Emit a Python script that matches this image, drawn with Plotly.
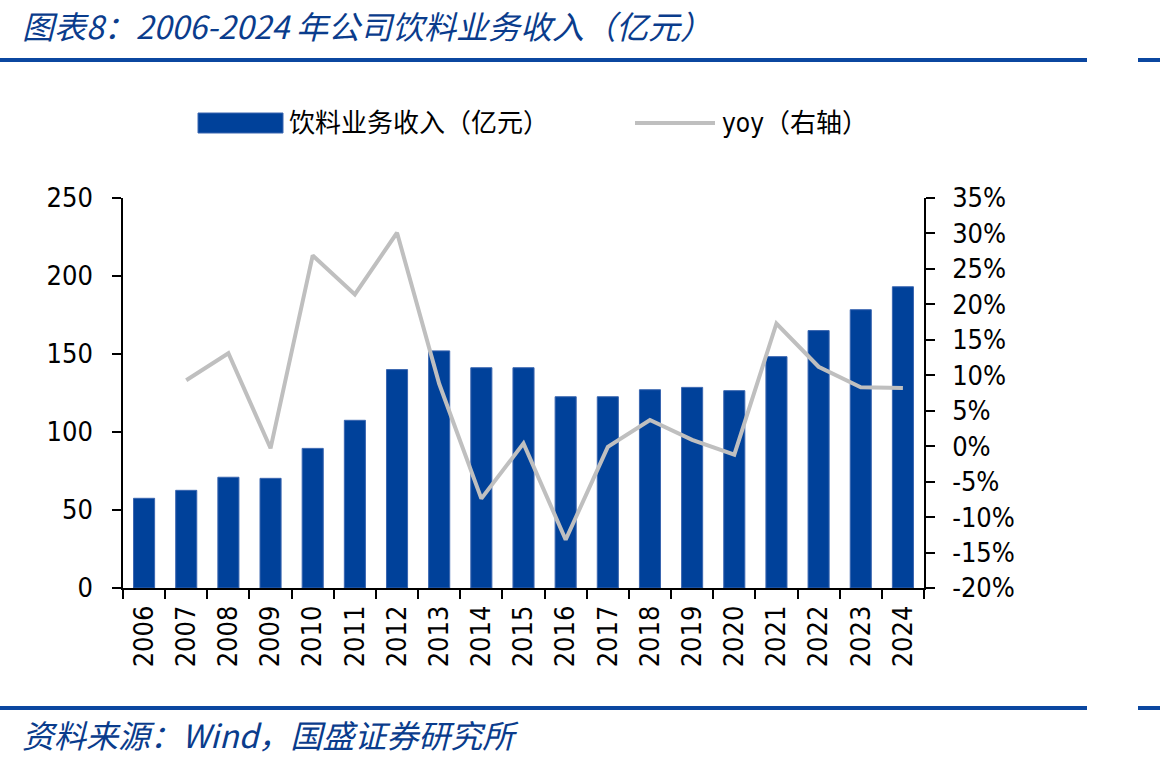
import plotly.graph_objects as go

years = [str(y) for y in range(2006, 2025)]
revenue = [57.5, 62.6, 71.0, 70.3, 89.5, 107.5, 140.0, 152.0, 141.2, 141.2,
           122.6, 122.6, 127.1, 128.6, 126.5, 148.3, 165.0, 178.4, 193.1]
yoy = [None, 0.093, 0.131, -0.003, 0.269, 0.214, 0.301, 0.088, -0.074, 0.004,
       -0.132, -0.001, 0.037, 0.009, -0.012, 0.173, 0.112, 0.083, 0.082]

yoy_tickvals = [-0.20, -0.15, -0.10, -0.05, 0.0, 0.05, 0.10, 0.15, 0.20, 0.25, 0.30, 0.35]
yoy_ticktext = ["-20%", "-15%", "-10%", "-5%", "0%", "5%", "10%", "15%", "20%", "25%", "30%", "35%"]

bar_name = "饮料业务收入（亿元）"
line_name = "yoy（右轴）"
title_text = "图表8：2006-2024 年公司饮料业务收入（亿元）"
source_text = "资料来源：Wind，国盛证券研究所"

BLUE = "#00419A"
GRAY = "#BFBFBF"
TXT_BLUE = "#0A3C8C"
LINE_BLUE = "#0B47A0"

W, H = 1160, 764
L, R, T, B = 123, 924, 198, 588


def px(x):
    return (x - L) / (R - L)


def py(y):
    return (B - y) / (B - T)


TICKFONT = dict(family="DejaVu Sans Condensed, Liberation Sans, Noto Sans CJK SC", size=27, color="black")

fig = go.Figure()
fig.add_trace(go.Bar(x=years, y=revenue, name=bar_name, marker=dict(color=BLUE, line=dict(color="#3A66B0", width=1)),
                     showlegend=False))
fig.add_trace(go.Scatter(x=years, y=yoy, name=line_name, yaxis="y2", mode="lines",
                         line=dict(color=GRAY, width=4), showlegend=False))

fig.update_layout(
    width=W, height=H,
    margin=dict(l=L, r=W - R, t=T, b=H - B, autoexpand=False),
    paper_bgcolor="white", plot_bgcolor="white",
    bargap=0.5,
    xaxis=dict(type="category", showline=True, linecolor="black", linewidth=1.5,
               ticks="outside", ticklen=9, tickcolor="black", tickwidth=1.5, tickson="boundaries",
               tickangle=-90, tickfont=TICKFONT, showgrid=False, zeroline=False, ticklabelstandoff=5),
    yaxis=dict(range=[0, 250], dtick=50, showline=True, linecolor="black", linewidth=1.5,
               ticks="outside", ticklen=9, tickcolor="black", tickwidth=1.5,
               tickfont=TICKFONT, showgrid=False, zeroline=False, ticklabelstandoff=14),
    yaxis2=dict(range=[-0.20, 0.35], tickmode="array", tickvals=yoy_tickvals, ticktext=yoy_ticktext,
                overlaying="y", side="right",
                showline=True, linecolor="black", linewidth=1.5,
                ticks="outside", ticklen=9, tickcolor="black", tickwidth=1.5,
                tickfont=TICKFONT, showgrid=False, zeroline=False, ticklabelstandoff=12),
)

shapes = [
    # top rule
    dict(type="line", xref="paper", yref="paper", x0=px(0), x1=px(1087), y0=py(60), y1=py(60),
         line=dict(color=LINE_BLUE, width=4)),
    dict(type="line", xref="paper", yref="paper", x0=px(1138), x1=px(1160), y0=py(60), y1=py(60),
         line=dict(color=LINE_BLUE, width=4)),
    # bottom rule
    dict(type="line", xref="paper", yref="paper", x0=px(0), x1=px(1087), y0=py(708), y1=py(708),
         line=dict(color=LINE_BLUE, width=4)),
    dict(type="line", xref="paper", yref="paper", x0=px(1138), x1=px(1160), y0=py(708), y1=py(708),
         line=dict(color=LINE_BLUE, width=4)),
    # legend symbols
    dict(type="rect", xref="paper", yref="paper", x0=px(198), x1=px(283), y0=py(133), y1=py(113),
         fillcolor=BLUE, line=dict(color="#3A66B0", width=1)),
    dict(type="line", xref="paper", yref="paper", x0=px(635), x1=px(715), y0=py(123), y1=py(123),
         line=dict(color=GRAY, width=4)),
]

LEGFONT = dict(family="DejaVu Sans Condensed, Liberation Sans, Noto Sans CJK SC", size=26, color="black")
annotations = [
    dict(text="<i>" + title_text + "</i>", xref="paper", yref="paper", x=px(20), y=py(25),
         xanchor="left", yanchor="middle",
         showarrow=False, font=dict(family="Noto Sans CJK SC", size=32, color=TXT_BLUE)),
    dict(text="<i>" + source_text + "</i>", xref="paper", yref="paper", x=px(20), y=py(734),
         xanchor="left", yanchor="middle",
         showarrow=False, font=dict(family="Noto Sans CJK SC", size=32, color=TXT_BLUE)),
    dict(text=bar_name, xref="paper", yref="paper", x=px(287), y=py(123), xanchor="left", yanchor="middle",
         showarrow=False, font=LEGFONT),
    dict(text=line_name, xref="paper", yref="paper", x=px(720), y=py(123), xanchor="left", yanchor="middle",
         showarrow=False, font=LEGFONT),
]
fig.update_layout(shapes=shapes, annotations=annotations)

fig.write_html("out.html")
